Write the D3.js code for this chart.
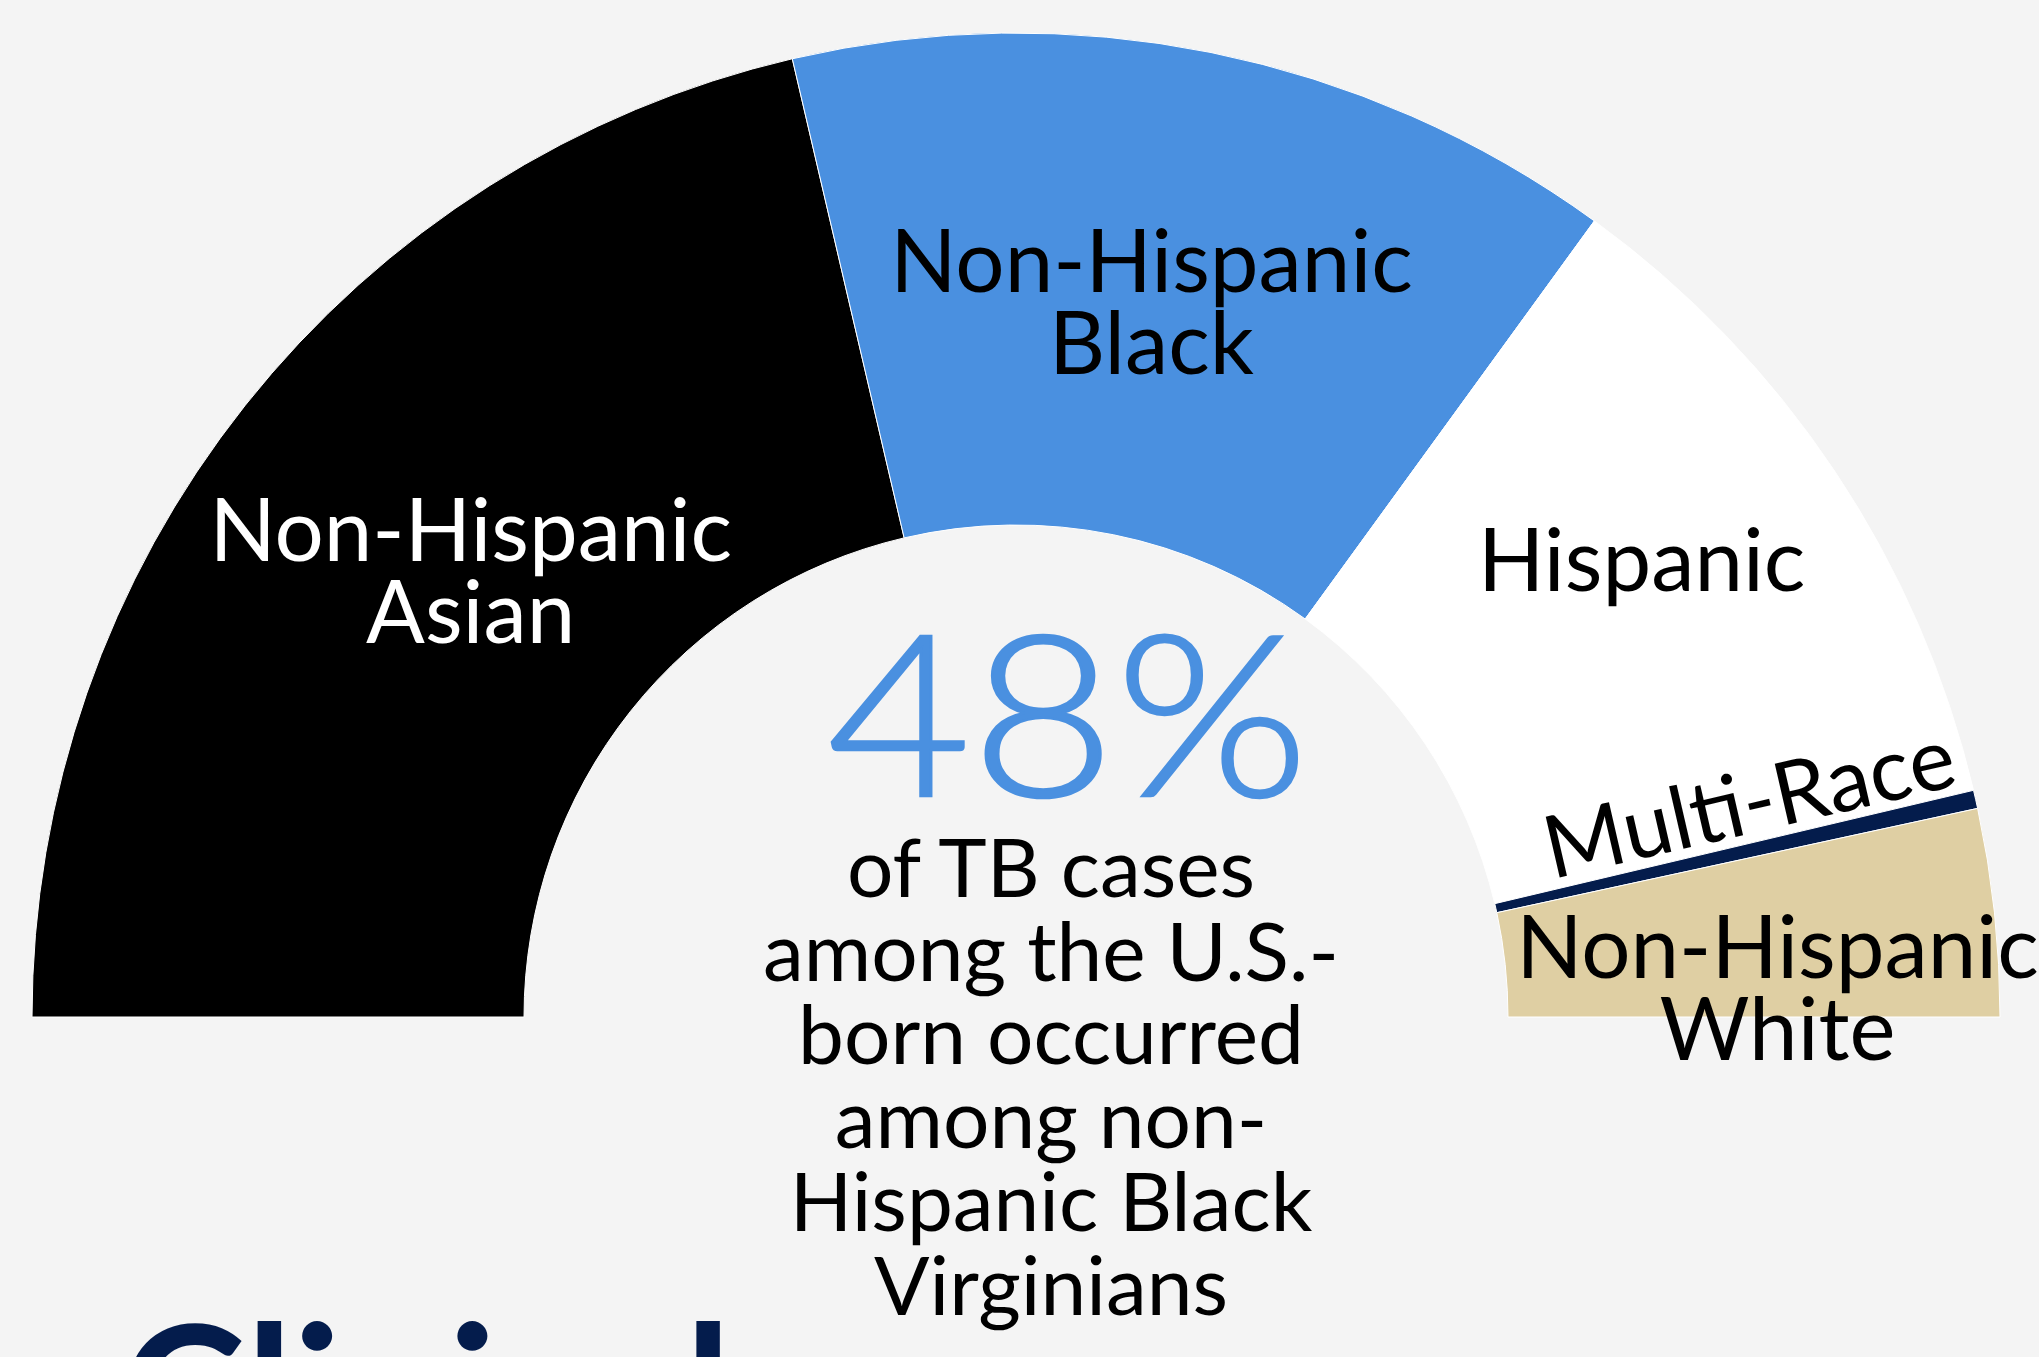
<!DOCTYPE html>
<html>
<head>
<meta charset="utf-8">
<script src="https://cdn.jsdelivr.net/npm/d3@7"></script>
<style>
  html, body { margin: 0; padding: 0; background: #f4f4f4; overflow: hidden; }
  svg { display: block; font-family: Lato, "Open Sans", sans-serif; }
</style>
</head>
<body>
<svg width="2039" height="1357"></svg>
<script>
// share of the half donut for each group
const groups = ["Non-Hispanic Asian", "Non-Hispanic Black", "Hispanic", "Multi-Race", "Non-Hispanic White"];
const shares = [42.7, 27.3, 22.6, 0.6, 6.8];
const colors = ["#000000", "#4a90e0", "#ffffff", "#041c4c", "#dfcfa3"];
const labelLines = [["Non-Hispanic", "Asian"], ["Non-Hispanic", "Black"], ["Hispanic"], ["Multi-Race"], ["Non-Hispanic", "White"]];
const labelColors = ["#ffffff", "#000000", "#000000", "#000000", "#000000"];

const bigNumber = "48%";
const blurb = ["of TB cases", "among the U.S.-", "born occurred", "among non-", "Hispanic Black", "Virginians"];
const nextHeading = "Clinical";

const svg = d3.select("svg");
const width = 2039, height = 1357;
const cx = 1016, cy = 1017;
const outerR = 984, innerR = 492;

svg.append("rect").attr("width", width).attr("height", height).attr("fill", "#f4f4f4");

const pie = d3.pie().sort(null).startAngle(-Math.PI / 2).endAngle(Math.PI / 2);
const arc = d3.arc().innerRadius(innerR).outerRadius(outerR);
const slices = pie(shares);

const g = svg.append("g").attr("transform", `translate(${cx},${cy})`);

g.selectAll("path")
  .data(slices)
  .enter().append("path")
  .attr("d", arc)
  .attr("fill", (d, i) => colors[i])
  .attr("stroke", "#ffffff")
  .attr("stroke-width", 1);

// label placement: radius + small nudges, everything else from the slice angles
const labelArcs = [
  { r: 705, da: 0.9, rot: 0 },
  { r: 728, da: -0.7, rot: 0 },
  { r: 775, da: -2.5, rot: 0 },
  { r: 764, da: -3.6, rot: -13 },
  { r: 762, da: 3.9, rot: 0 }
];
const fontSize = 87, lineH = 82;

slices.forEach((s, i) => {
  const mid = (s.startAngle + s.endAngle) / 2 + labelArcs[i].da * Math.PI / 180;
  const x = labelArcs[i].r * Math.sin(mid);
  const y = -labelArcs[i].r * Math.cos(mid);
  const lines = labelLines[i];
  const t = g.append("text")
    .attr("text-anchor", "middle")
    .attr("font-size", fontSize)
    .attr("fill", labelColors[i])
    .attr("transform", `translate(${x},${y}) rotate(${labelArcs[i].rot})`);
  // vertically centre the block of cap heights on the label point
  const capH = fontSize * 0.72;
  const top = -((lines.length - 1) * lineH + capH) / 2;
  lines.forEach((ln, j) => {
    t.append("tspan")
      .attr("x", 0)
      .attr("y", top + capH + j * lineH)
      .text(ln);
  });
});

// big number in the middle (the original face is a little wider than Lato)
svg.append("text")
  .attr("transform", "translate(1068,796) scale(1.1,1)")
  .attr("text-anchor", "middle")
  .attr("font-size", 226)
  .attr("font-weight", 300)
  .attr("fill", "#4a90e0")
  .attr("stroke", "#4a90e0")
  .attr("stroke-width", 2.5)
  .text(bigNumber);

const blurbText = svg.append("text")
  .attr("text-anchor", "middle")
  .attr("font-size", 82)
  .attr("fill", "#000000");
blurb.forEach((ln, j) => {
  blurbText.append("tspan")
    .attr("x", 1051)
    .attr("y", 897 + j * 83.5)
    .text(ln);
});

// heading of the next section, cut off by the bottom edge
svg.append("text")
  .attr("x", 120)
  .attr("y", 1462)
  .attr("font-size", 190)
  .attr("font-weight", 700)
  .attr("fill", "#041c4c")
  .text(nextHeading);
</script>
</body>
</html>
